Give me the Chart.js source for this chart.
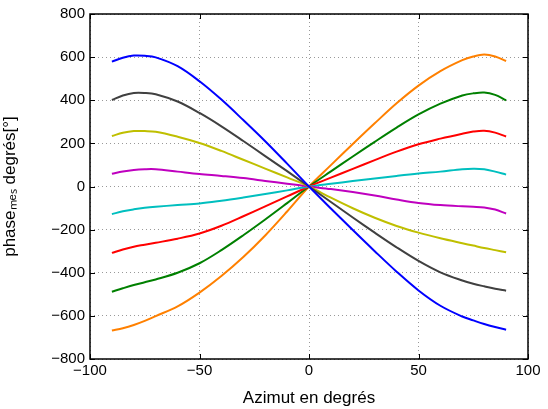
<!DOCTYPE html>
<html>
<head>
<meta charset="utf-8">
<script src="https://cdn.jsdelivr.net/npm/chart.js@4"></script>
<style>
  html, body { margin: 0; padding: 0; background: #fff; }
  #wrap { width: 548px; height: 409px; }
</style>
</head>
<body>
<div id="wrap"><canvas id="chart" width="548" height="409"></canvas></div>
<script>
const azimut = [-90, -85, -80, -75, -70, -60, -50, -40, -30, -20, -10, 0, 10, 20, 30, 40, 50, 60, 70, 75, 80, 85, 90];

const blue    = [579, 597, 607, 606, 599, 558, 488, 403, 308, 210, 106, 0, -102, -202, -300, -395, -482, -553, -603, -621, -638, -652, -664];
const gray    = [401, 422, 434, 434, 428, 394, 341, 279, 211, 141, 71, 0, -72, -144, -214, -282, -345, -398, -436, -451, -463, -474, -483];
const yellow  = [234, 249, 257, 257, 254, 231, 202, 165, 124, 83, 42, 0, -52, -101, -145, -183, -214, -240, -263, -274, -285, -295, -305];
const magenta = [59, 70, 77, 80, 80, 69, 58, 49, 39, 26, 13, 0, -12, -26, -42, -60, -76, -86, -92, -94, -97, -107, -125];
const cyan    = [-128, -115, -106, -99, -94, -86, -79, -66, -51, -35, -18, 0, 13, 25, 37, 49, 60, 69, 80, 82, 80, 69, 55];
const red     = [-308, -292, -279, -270, -261, -242, -218, -182, -138, -92, -46, 0, 41, 82, 122, 162, 196, 222, 245, 255, 259, 250, 232];
const green   = [-488, -472, -457, -444, -431, -400, -356, -295, -226, -153, -77, 0, 70, 139, 207, 273, 334, 384, 422, 432, 436, 425, 400];
const orange  = [-668, -657, -642, -623, -601, -556, -492, -415, -327, -227, -116, 0, 99, 197, 293, 386, 468, 535, 586, 603, 612, 603, 582];

const xTicks = [-100, -50, 0, 50, 100];
const yTicks = [-800, -600, -400, -200, 0, 200, 400, 600, 800];

const series = [
  { name: 'blue', data: blue, color: '#0000ff' },
  { name: 'gray', data: gray, color: '#404040' },
  { name: 'yellow', data: yellow, color: '#bfbf00' },
  { name: 'magenta', data: magenta, color: '#bf00bf' },
  { name: 'cyan', data: cyan, color: '#00bfbf' },
  { name: 'red', data: red, color: '#ff0000' },
  { name: 'green', data: green, color: '#008000' },
  { name: 'orange', data: orange, color: '#ff8000' }
];

const minus = v => String(v).replace('-', '\u2212');
const FONT = 'Liberation Sans, Arial, Helvetica, sans-serif';

// box + inward tick marks, matlab style
const boxTicks = {
  id: 'boxTicks',
  afterDraw(chart) {
    const { ctx, chartArea: a, scales } = chart;
    ctx.save();
    ctx.strokeStyle = '#000';
    ctx.lineWidth = 1;
    const len = 5;
    ctx.beginPath();
    scales.x.ticks.forEach(t => {
      const px = Math.round(scales.x.getPixelForValue(t.value)) + 0.5;
      ctx.moveTo(px, a.bottom); ctx.lineTo(px, a.bottom - len);
      ctx.moveTo(px, a.top); ctx.lineTo(px, a.top + len);
    });
    scales.y.ticks.forEach(t => {
      const py = Math.round(scales.y.getPixelForValue(t.value)) + 0.5;
      ctx.moveTo(a.left, py); ctx.lineTo(a.left + len, py);
      ctx.moveTo(a.right, py); ctx.lineTo(a.right - len, py);
    });
    ctx.stroke();
    ctx.lineWidth = 1.5;
    ctx.strokeRect(a.left, a.top, a.right - a.left, a.bottom - a.top);
    ctx.restore();
  }
};

new Chart(document.getElementById('chart').getContext('2d'), {
  type: 'line',
  data: {
    datasets: series.map(s => ({
      label: s.name,
      data: azimut.map((x, i) => ({ x: x, y: s.data[i] })),
      borderColor: s.color,
      backgroundColor: s.color,
      borderWidth: 2,
      pointRadius: 0,
      tension: 0.35,
      fill: false
    }))
  },
  options: {
    responsive: false,
    animation: false,
    layout: { padding: { top: 14, right: 20, left: 0, bottom: 0 } },
    plugins: { legend: { display: false }, tooltip: { enabled: false } },
    scales: {
      x: {
        type: 'linear',
        min: -100,
        max: 100,
        afterBuildTicks: s => { s.ticks = xTicks.map(v => ({ value: v })); },
        afterFit: s => { s.height = 50; },
        ticks: { color: '#000', padding: 3, font: { family: FONT, size: 15 }, callback: v => minus(v), maxRotation: 0 },
        grid: { color: '#999', lineWidth: 1, drawTicks: false, tickLength: 0 },
        border: { display: false, dash: [1, 3] },
        title: { display: true, text: 'Azimut en degrés', color: '#000', font: { family: FONT, size: 17 }, padding: { top: 6, bottom: 0 } }
      },
      y: {
        type: 'linear',
        min: -800,
        max: 800,
        afterBuildTicks: s => { s.ticks = yTicks.map(v => ({ value: v })); },
        afterFit: s => { s.width = 90; },
        ticks: { color: '#000', padding: 5, font: { family: FONT, size: 15 }, callback: v => minus(v) },
        grid: { color: '#999', lineWidth: 1, drawTicks: false, tickLength: 0 },
        border: { display: false, dash: [1, 3] },
        title: { display: true, text: 'phase\u2098\u2091\u209b degrés[°]', color: '#000', font: { family: FONT, size: 17 }, padding: { top: 0, bottom: 10 } }
      }
    }
  },
  plugins: [boxTicks]
});
</script>
</body>
</html>
